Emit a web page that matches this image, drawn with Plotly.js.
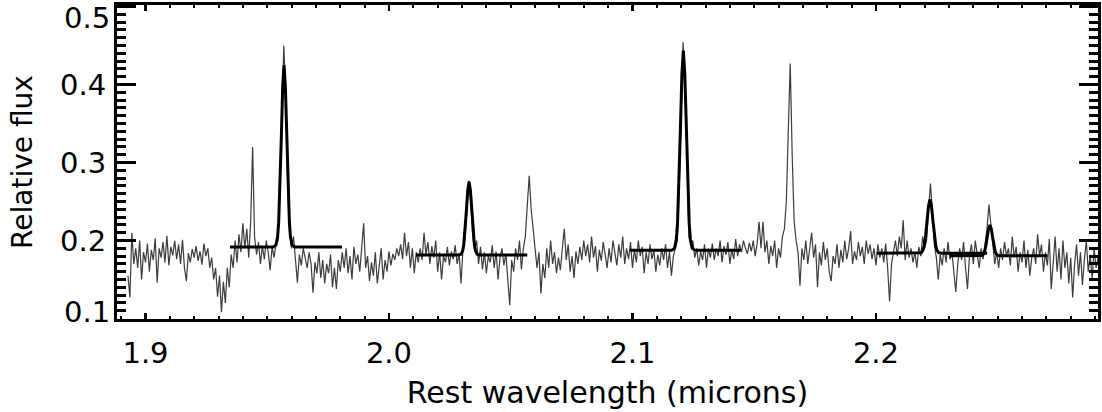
<!DOCTYPE html>
<html>
<head>
<meta charset="utf-8">
<script src="https://cdn.plot.ly/plotly-3.0.1.min.js"></script>
<style>
  html, body { margin: 0; padding: 0; background: #ffffff; }
  #chart { width: 1102px; height: 412px; }
</style>
</head>
<body>
<div id="chart"></div>
<script>
// Spectrum: regular wavelength grid (microns) defined by its start and dispersion
const lambdaStart = 1.8928;
const lambdaStep = 0.0008;

const flux = [
  // 1.8928 - 1.9120
  .155,.127,.21,.17,.19,.165,.2,.15,.185,.172,.196,.16,.188,.175,.203,.146,.19,.178,.198,.172,.206,.168,.192,.181,.2,
  // 1.9128 - 1.9320
  .176,.195,.17,.201,.165,.148,.184,.172,.189,.178,.193,.174,.186,.169,.196,.18,.19,.165,.178,.15,.165,.128,.155,.108,.147,
  // 1.9328 - 1.9520
  .12,.165,.14,.182,.165,.2,.172,.208,.185,.222,.19,.215,.178,.225,.32,.205,.182,.198,.17,.193,.176,.2,.185,.162,.192,
  // 1.9528 - 1.9720
  .178,.196,.2,.26,.37,.45,.39,.27,.21,.19,.205,.175,.146,.182,.168,.19,.176,.165,.185,.17,.133,.172,.158,.185,.152,
  // 1.9728 - 1.9920
  .175,.145,.17,.158,.182,.14,.165,.138,.175,.16,.185,.165,.19,.158,.18,.15,.192,.17,.182,.16,.195,.222,.165,.18,.148,
  // 1.9928 - 2.0120
  .172,.155,.185,.145,.168,.19,.15,.175,.16,.186,.168,.183,.175,.19,.18,.195,.176,.21,.18,.198,.165,.19,.158,.185,.172,
  // 2.0128 - 2.0320
  .19,.175,.21,.182,.198,.17,.193,.178,.2,.16,.185,.15,.18,.172,.192,.168,.186,.176,.194,.17,.183,.145,.19,.2,.245,
  // 2.0328 - 2.0520
  .277,.25,.205,.188,.2,.17,.192,.163,.185,.158,.18,.172,.194,.165,.186,.15,.178,.19,.168,.183,.155,.117,.175,.16,.19,
  // 2.0528 - 2.0720
  .175,.2,.163,.19,.205,.245,.283,.24,.215,.198,.165,.185,.132,.17,.152,.19,.165,.2,.17,.185,.158,.178,.162,.19,.215,
  // 2.0728 - 2.0920
  .175,.195,.16,.18,.152,.186,.17,.192,.175,.2,.18,.195,.172,.205,.178,.193,.16,.188,.174,.198,.182,.165,.19,.172,.2,
  // 2.0928 - 2.1120
  .185,.168,.195,.178,.205,.17,.19,.176,.198,.165,.188,.172,.2,.18,.192,.158,.185,.17,.195,.176,.188,.16,.182,.168,.19,
  // 2.1128 - 2.1320
  .175,.195,.165,.186,.155,.18,.19,.2,.265,.38,.454,.4,.28,.205,.195,.2,.178,.19,.168,.186,.175,.195,.165,.19,.178,
  // 2.1328 - 2.1520
  .196,.175,.19,.18,.2,.172,.193,.182,.198,.17,.188,.176,.202,.18,.195,.185,.2,.19,.183,.197,.186,.2,.18,.196,.224,
  // 2.1528 - 2.1720
  .19,.224,.185,.2,.17,.193,.18,.2,.165,.19,.178,.205,.215,.25,.34,.427,.31,.225,.2,.185,.142,.19,.175,.2,.17,
  // 2.1728 - 2.1920
  .19,.21,.178,.195,.14,.185,.168,.198,.175,.19,.16,.148,.18,.17,.195,.165,.188,.172,.2,.176,.19,.212,.17,.186,.175,
  // 2.1928 - 2.2120
  .198,.18,.192,.17,.2,.183,.195,.176,.19,.168,.195,.178,.19,.172,.196,.165,.122,.17,.185,.2,.18,.205,.19,.226,.175,
  // 2.2128 - 2.2320
  .2,.178,.19,.172,.185,.165,.192,.18,.205,.19,.2,.24,.273,.235,.195,.178,.15,.182,.168,.19,.172,.198,.176,.185,.16,
  // 2.2328 - 2.2520
  .134,.17,.19,.175,.198,.165,.138,.18,.195,.17,.2,.182,.165,.19,.176,.195,.215,.246,.22,.19,.17,.185,.165,.19,.175,
  // 2.2528 - 2.2720
  .198,.18,.19,.168,.205,.178,.192,.16,.185,.172,.2,.165,.188,.155,.178,.19,.17,.208,.18,.195,.16,.185,.168,.202,.138,
  // 2.2728 - 2.2912
  .172,.205,.16,.19,.15,.2,.165,.185,.145,.178,.127,.17,.195,.155,.185,.143,.175,.2,.16,.182,.15,.19,.165,.178
];

const fit1Wave = [1.9347, 1.9525, 1.9536, 1.95426, 1.9547, 1.95525, 1.9558, 1.95635, 1.9569, 1.95745, 1.9580, 1.95855, 1.9591, 1.95954, 1.9602, 1.9613, 1.9807];
const fit1Flux = [0.1917, 0.1917, 0.1943, 0.2047, 0.2232, 0.2674, 0.3331, 0.3972, 0.4247, 0.3972, 0.3331, 0.2674, 0.2232, 0.2047, 0.1943, 0.1917, 0.1917];

const fit2Wave = [2.0111, 2.0285, 2.0296, 2.03026, 2.0307, 2.03125, 2.0318, 2.03235, 2.0329, 2.03345, 2.0340, 2.03455, 2.0351, 2.03554, 2.0362, 2.0373, 2.0568];
const fit2Flux = [0.1814, 0.1814, 0.1824, 0.1867, 0.1941, 0.2120, 0.2385, 0.2643, 0.2754, 0.2643, 0.2385, 0.2120, 0.1941, 0.1867, 0.1824, 0.1814, 0.1814];

const fit3Wave = [2.0990, 2.1161, 2.1173, 2.11802, 2.1185, 2.1191, 2.1197, 2.1203, 2.1209, 2.1215, 2.1221, 2.1227, 2.1233, 2.12378, 2.1245, 2.1257, 2.1445];
const fit3Flux = [0.1874, 0.1874, 0.1902, 0.2017, 0.2220, 0.2706, 0.3428, 0.4132, 0.4434, 0.4132, 0.3428, 0.2706, 0.2220, 0.2017, 0.1902, 0.1874, 0.1874];

const fit4Wave = [2.2003, 2.2174, 2.2186, 2.21932, 2.2198, 2.2204, 2.2210, 2.2216, 2.2222, 2.2228, 2.2234, 2.2240, 2.2246, 2.22508, 2.2258, 2.2270, 2.2457];
const fit4Flux = [0.1836, 0.1836, 0.1844, 0.1875, 0.1929, 0.2061, 0.2256, 0.2446, 0.2528, 0.2446, 0.2256, 0.2061, 0.1929, 0.1875, 0.1844, 0.1836, 0.1836];

const fit5Wave = [2.2304, 2.2424, 2.2435, 2.24416, 2.2446, 2.24515, 2.2457, 2.24625, 2.2468, 2.24735, 2.2479, 2.24845, 2.2490, 2.24944, 2.2501, 2.2512, 2.2705];
const fit5Flux = [0.1805, 0.1805, 0.1809, 0.1827, 0.1858, 0.1933, 0.2044, 0.2153, 0.2199, 0.2153, 0.2044, 0.1933, 0.1858, 0.1827, 0.1809, 0.1805, 0.1805];

const xTitle = 'Rest wavelength (microns)';
const yTitle = 'Relative flux';
const yTickVals = [0.1, 0.2, 0.3, 0.4, 0.5];
const yTickText = ['0.1', '0.2', '0.3', '0.4', '0.5'];

const wavelength = flux.map((_, i) => +(lambdaStart + i * lambdaStep).toFixed(4));

const fits = [
  [fit1Wave, fit1Flux], [fit2Wave, fit2Flux], [fit3Wave, fit3Flux],
  [fit4Wave, fit4Flux], [fit5Wave, fit5Flux]
];

const traces = [{
  type: 'scatter', mode: 'lines', x: wavelength, y: flux,
  line: { color: '#3c3c3c', width: 1.2 }, hoverinfo: 'skip'
}];
fits.forEach(([xw, yf]) => traces.push({
  type: 'scatter', mode: 'lines', x: xw, y: yf,
  line: { color: '#000000', width: 3 }, hoverinfo: 'skip'
}));

const font = { family: 'DejaVu Sans, sans-serif', color: '#000000' };

// The end labels (0.1 and 0.5) sit nudged inward as in the original; draw them as annotations
const edgeShift = { 0.1: 6.5, 0.5: -11.5 };
const annotations = yTickVals.filter(v => v in edgeShift).map(v => ({
  xref: 'paper', x: 0, xanchor: 'right', xshift: -5,
  yref: 'y', y: v, yanchor: 'middle', yshift: edgeShift[v],
  text: yTickText[yTickVals.indexOf(v)], showarrow: false,
  font: Object.assign({ size: 29 }, font)
}));
const axisTickText = yTickVals.map((v, i) => (v in edgeShift) ? '' : yTickText[i]);

const layout = {
  width: 1102, height: 412,
  margin: { l: 117, r: 4, t: 5, b: 93, pad: 0 },
  paper_bgcolor: '#ffffff', plot_bgcolor: '#ffffff',
  showlegend: false,
  font: Object.assign({ size: 29 }, font),
  annotations: annotations,
  xaxis: {
    range: [1.8883, 2.2912], tick0: 1.9, dtick: 0.1, tickformat: '.1f',
    ticks: 'inside', ticklen: 6, tickwidth: 2.5, tickcolor: '#000',
    minor: { dtick: 0.01, tick0: 1.9, ticks: 'inside', ticklen: 3, tickwidth: 2, tickcolor: '#000', showgrid: false },
    showline: true, linewidth: 3, linecolor: '#000', mirror: 'ticks',
    showgrid: false, zeroline: false,
    ticklabelstandoff: 6,
    tickfont: Object.assign({ size: 29 }, font),
    title: { text: xTitle, font: Object.assign({ size: 30 }, font), standoff: 14 }
  },
  yaxis: {
    range: [0.0994, 0.5019], tickmode: 'array', tickvals: yTickVals, ticktext: axisTickText,
    ticks: 'inside', ticklen: 19, tickwidth: 3, tickcolor: '#000',
    minor: { dtick: 0.01, tick0: 0.1, ticks: 'inside', ticklen: 9, tickwidth: 3, tickcolor: '#000', showgrid: false },
    showline: true, linewidth: 3, linecolor: '#000', mirror: 'ticks',
    showgrid: false, zeroline: false,
    ticklabelstandoff: 2,
    tickfont: Object.assign({ size: 29 }, font),
    title: { text: yTitle, font: Object.assign({ size: 28 }, font), standoff: 20 }
  }
};

Plotly.newPlot('chart', traces, layout, { staticPlot: true, displayModeBar: false });
</script>
</body>
</html>
